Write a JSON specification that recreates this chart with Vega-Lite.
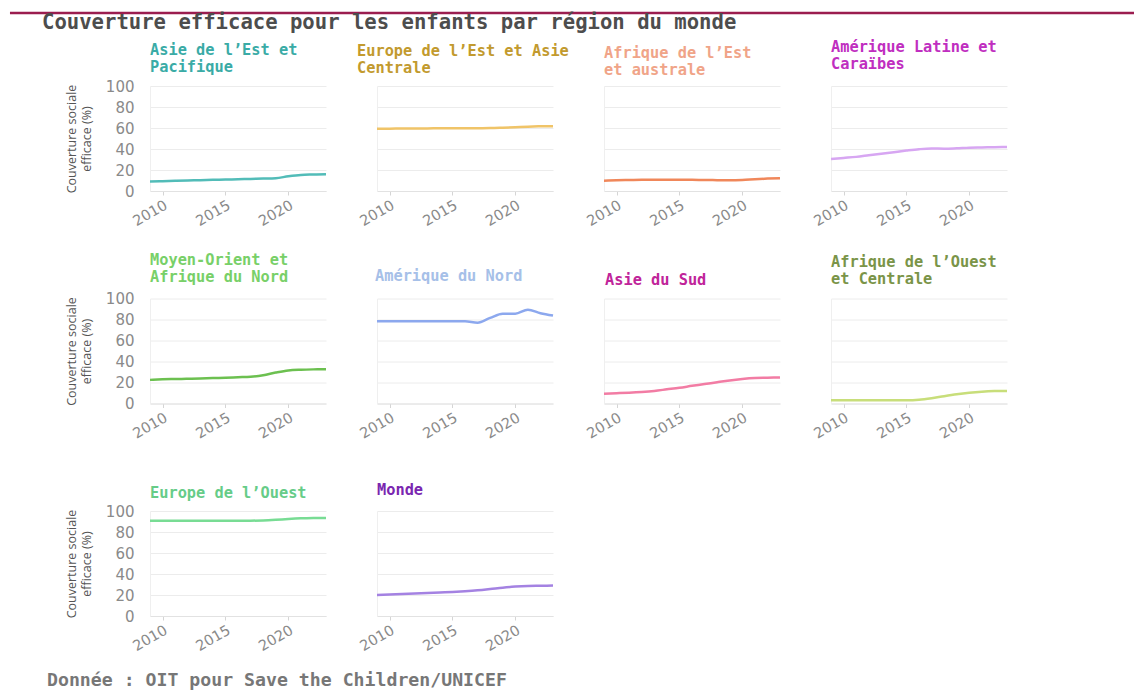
{
  "$schema": "https://vega.github.io/schema/vega-lite/v6.json",
  "padding": {"left": 8, "top": 11, "right": 0, "bottom": 0},
  "bounds": "flush",
  "spacing": 72,
  "datasets": {
    "d": [
      {"region": "EAP", "year": 2009, "value": 9}, {"region": "EAP", "year": 2010, "value": 9.3}, {"region": "EAP", "year": 2011, "value": 9.7}, {"region": "EAP", "year": 2012, "value": 10}, {"region": "EAP", "year": 2013, "value": 10.3}, {"region": "EAP", "year": 2014, "value": 10.6}, {"region": "EAP", "year": 2015, "value": 10.9}, {"region": "EAP", "year": 2016, "value": 11.2}, {"region": "EAP", "year": 2017, "value": 11.5}, {"region": "EAP", "year": 2018, "value": 11.8}, {"region": "EAP", "year": 2019, "value": 12.2}, {"region": "EAP", "year": 2020, "value": 14}, {"region": "EAP", "year": 2021, "value": 15.3}, {"region": "EAP", "year": 2022, "value": 15.7}, {"region": "EAP", "year": 2023, "value": 16},
      {"region": "ECA", "year": 2009, "value": 59.3}, {"region": "ECA", "year": 2010, "value": 59.4}, {"region": "ECA", "year": 2011, "value": 59.5}, {"region": "ECA", "year": 2012, "value": 59.6}, {"region": "ECA", "year": 2013, "value": 59.6}, {"region": "ECA", "year": 2014, "value": 59.7}, {"region": "ECA", "year": 2015, "value": 59.7}, {"region": "ECA", "year": 2016, "value": 59.8}, {"region": "ECA", "year": 2017, "value": 59.8}, {"region": "ECA", "year": 2018, "value": 59.9}, {"region": "ECA", "year": 2019, "value": 60.3}, {"region": "ECA", "year": 2020, "value": 60.8}, {"region": "ECA", "year": 2021, "value": 61.3}, {"region": "ECA", "year": 2022, "value": 61.6}, {"region": "ECA", "year": 2023, "value": 61.7},
      {"region": "ESA", "year": 2009, "value": 9.8}, {"region": "ESA", "year": 2010, "value": 10.2}, {"region": "ESA", "year": 2011, "value": 10.5}, {"region": "ESA", "year": 2012, "value": 10.7}, {"region": "ESA", "year": 2013, "value": 10.8}, {"region": "ESA", "year": 2014, "value": 10.8}, {"region": "ESA", "year": 2015, "value": 10.8}, {"region": "ESA", "year": 2016, "value": 10.7}, {"region": "ESA", "year": 2017, "value": 10.5}, {"region": "ESA", "year": 2018, "value": 10.3}, {"region": "ESA", "year": 2019, "value": 10.2}, {"region": "ESA", "year": 2020, "value": 10.5}, {"region": "ESA", "year": 2021, "value": 11.2}, {"region": "ESA", "year": 2022, "value": 11.8}, {"region": "ESA", "year": 2023, "value": 12.2},
      {"region": "LAC", "year": 2009, "value": 30.5}, {"region": "LAC", "year": 2010, "value": 31.5}, {"region": "LAC", "year": 2011, "value": 32.5}, {"region": "LAC", "year": 2012, "value": 34}, {"region": "LAC", "year": 2013, "value": 35.5}, {"region": "LAC", "year": 2014, "value": 37}, {"region": "LAC", "year": 2015, "value": 38.5}, {"region": "LAC", "year": 2016, "value": 39.8}, {"region": "LAC", "year": 2017, "value": 40.5}, {"region": "LAC", "year": 2018, "value": 40.3}, {"region": "LAC", "year": 2019, "value": 40.7}, {"region": "LAC", "year": 2020, "value": 41.3}, {"region": "LAC", "year": 2021, "value": 41.5}, {"region": "LAC", "year": 2022, "value": 41.7}, {"region": "LAC", "year": 2023, "value": 42},
      {"region": "MENA", "year": 2009, "value": 22.5}, {"region": "MENA", "year": 2010, "value": 23}, {"region": "MENA", "year": 2011, "value": 23.3}, {"region": "MENA", "year": 2012, "value": 23.5}, {"region": "MENA", "year": 2013, "value": 23.8}, {"region": "MENA", "year": 2014, "value": 24.2}, {"region": "MENA", "year": 2015, "value": 24.5}, {"region": "MENA", "year": 2016, "value": 25}, {"region": "MENA", "year": 2017, "value": 25.5}, {"region": "MENA", "year": 2018, "value": 27}, {"region": "MENA", "year": 2019, "value": 29.5}, {"region": "MENA", "year": 2020, "value": 31.5}, {"region": "MENA", "year": 2021, "value": 32.2}, {"region": "MENA", "year": 2022, "value": 32.5}, {"region": "MENA", "year": 2023, "value": 32.6},
      {"region": "NA", "year": 2009, "value": 78.3}, {"region": "NA", "year": 2010, "value": 78.3}, {"region": "NA", "year": 2011, "value": 78.3}, {"region": "NA", "year": 2012, "value": 78.3}, {"region": "NA", "year": 2013, "value": 78.3}, {"region": "NA", "year": 2014, "value": 78.3}, {"region": "NA", "year": 2015, "value": 78.3}, {"region": "NA", "year": 2016, "value": 78.3}, {"region": "NA", "year": 2017, "value": 77}, {"region": "NA", "year": 2018, "value": 81.5}, {"region": "NA", "year": 2019, "value": 85.5}, {"region": "NA", "year": 2020, "value": 85.5}, {"region": "NA", "year": 2021, "value": 89.3}, {"region": "NA", "year": 2022, "value": 86}, {"region": "NA", "year": 2023, "value": 83.7},
      {"region": "SA", "year": 2009, "value": 9.4}, {"region": "SA", "year": 2010, "value": 9.8}, {"region": "SA", "year": 2011, "value": 10.3}, {"region": "SA", "year": 2012, "value": 11}, {"region": "SA", "year": 2013, "value": 12}, {"region": "SA", "year": 2014, "value": 13.5}, {"region": "SA", "year": 2015, "value": 15}, {"region": "SA", "year": 2016, "value": 16.8}, {"region": "SA", "year": 2017, "value": 18.5}, {"region": "SA", "year": 2018, "value": 20.3}, {"region": "SA", "year": 2019, "value": 22}, {"region": "SA", "year": 2020, "value": 23.3}, {"region": "SA", "year": 2021, "value": 24.2}, {"region": "SA", "year": 2022, "value": 24.5}, {"region": "SA", "year": 2023, "value": 24.8},
      {"region": "WCA", "year": 2009, "value": 3}, {"region": "WCA", "year": 2010, "value": 3}, {"region": "WCA", "year": 2011, "value": 3}, {"region": "WCA", "year": 2012, "value": 3}, {"region": "WCA", "year": 2013, "value": 3}, {"region": "WCA", "year": 2014, "value": 3}, {"region": "WCA", "year": 2015, "value": 3}, {"region": "WCA", "year": 2016, "value": 3.5}, {"region": "WCA", "year": 2017, "value": 5}, {"region": "WCA", "year": 2018, "value": 7}, {"region": "WCA", "year": 2019, "value": 8.8}, {"region": "WCA", "year": 2020, "value": 10.2}, {"region": "WCA", "year": 2021, "value": 11.2}, {"region": "WCA", "year": 2022, "value": 11.8}, {"region": "WCA", "year": 2023, "value": 12},
      {"region": "WE", "year": 2009, "value": 90.8}, {"region": "WE", "year": 2010, "value": 90.8}, {"region": "WE", "year": 2011, "value": 90.8}, {"region": "WE", "year": 2012, "value": 90.8}, {"region": "WE", "year": 2013, "value": 90.8}, {"region": "WE", "year": 2014, "value": 90.8}, {"region": "WE", "year": 2015, "value": 90.8}, {"region": "WE", "year": 2016, "value": 90.8}, {"region": "WE", "year": 2017, "value": 90.8}, {"region": "WE", "year": 2018, "value": 91}, {"region": "WE", "year": 2019, "value": 91.6}, {"region": "WE", "year": 2020, "value": 92.4}, {"region": "WE", "year": 2021, "value": 93}, {"region": "WE", "year": 2022, "value": 93.3}, {"region": "WE", "year": 2023, "value": 93.4},
      {"region": "WLD", "year": 2009, "value": 20}, {"region": "WLD", "year": 2010, "value": 20.4}, {"region": "WLD", "year": 2011, "value": 20.9}, {"region": "WLD", "year": 2012, "value": 21.4}, {"region": "WLD", "year": 2013, "value": 21.9}, {"region": "WLD", "year": 2014, "value": 22.4}, {"region": "WLD", "year": 2015, "value": 22.9}, {"region": "WLD", "year": 2016, "value": 23.6}, {"region": "WLD", "year": 2017, "value": 24.5}, {"region": "WLD", "year": 2018, "value": 25.7}, {"region": "WLD", "year": 2019, "value": 27}, {"region": "WLD", "year": 2020, "value": 28}, {"region": "WLD", "year": 2021, "value": 28.6}, {"region": "WLD", "year": 2022, "value": 28.8}, {"region": "WLD", "year": 2023, "value": 29}
    ]
  },
  "vconcat": [
    {
      "width": 984,
      "height": 1,
      "title": {"text": "Couverture efficace pour les enfants par région du monde", "orient": "bottom", "anchor": "start", "frame": "group", "dx": -108, "offset": -1, "font": "DejaVu Sans Mono", "fontSize": 20.6, "fontWeight": "bold", "color": "#4d4d4d"},
      "data": {"values": [{"k": 1}]},
      "mark": {"type": "rule", "color": "#9b1d4f", "strokeWidth": 2.5},
      "encoding": {
        "x": {"datum": -0.1423, "type": "quantitative", "scale": {"domain": [0, 1], "nice": false, "zero": false}, "axis": null},
        "x2": {"datum": 1},
        "y": {"value": 0}
      }
    },
    {
      "title": {"text": "Donnée : OIT pour Save the Children/UNICEF", "orient": "bottom", "anchor": "start", "frame": "group", "dx": -103, "offset": 19, "font": "DejaVu Sans Mono", "fontSize": 18.2, "fontWeight": "bold", "color": "#777777"},
      "columns": 4,
      "bounds": "flush",
      "spacing": {"row": 107.5, "column": 51},
      "concat": [
        {
          "width": 176, "height": 105,
          "title": {"text": ["Asie de l’Est et", "Pacifique"], "color": "#3aaba6", "offset": 4},
          "data": {"name": "d"},
          "transform": [{"filter": {"field": "region", "equal": "EAP"}}],
          "mark": {"type": "line", "color": "#52bcb8", "strokeWidth": 2.5, "interpolate": "monotone"},
          "encoding": {
            "x": {"field": "year", "type": "quantitative", "scale": {"domain": [2009, 2023], "nice": false, "zero": false}, "axis": {"values": [2010, 2015, 2020], "format": "d", "title": null, "grid": false}},
            "y": {"field": "value", "type": "quantitative", "scale": {"domain": [0, 100], "nice": false}, "axis": {"values": [0, 20, 40, 60, 80, 100], "title": ["Couverture sociale", "efficace (%)"]}}
          }
        },
        {
          "width": 176, "height": 105,
          "title": {"text": ["Europe de l’Est et Asie", "Centrale"], "color": "#c29a2e", "dx": -20, "offset": 10},
          "data": {"name": "d"},
          "transform": [{"filter": {"field": "region", "equal": "ECA"}}],
          "mark": {"type": "line", "color": "#f0c468", "strokeWidth": 2.5, "interpolate": "monotone"},
          "encoding": {
            "x": {"field": "year", "type": "quantitative", "scale": {"domain": [2009, 2023], "nice": false, "zero": false}, "axis": {"values": [2010, 2015, 2020], "format": "d", "title": null, "grid": false}},
            "y": {"field": "value", "type": "quantitative", "scale": {"domain": [0, 100], "nice": false}, "axis": {"values": [0, 20, 40, 60, 80, 100], "title": null, "labels": false}}
          }
        },
        {
          "width": 176, "height": 105,
          "title": {"text": ["Afrique de l’Est", "et australe"], "color": "#f0a488", "offset": 8},
          "data": {"name": "d"},
          "transform": [{"filter": {"field": "region", "equal": "ESA"}}],
          "mark": {"type": "line", "color": "#f0875a", "strokeWidth": 2.5, "interpolate": "monotone"},
          "encoding": {
            "x": {"field": "year", "type": "quantitative", "scale": {"domain": [2009, 2023], "nice": false, "zero": false}, "axis": {"values": [2010, 2015, 2020], "format": "d", "title": null, "grid": false}},
            "y": {"field": "value", "type": "quantitative", "scale": {"domain": [0, 100], "nice": false}, "axis": {"values": [0, 20, 40, 60, 80, 100], "title": null, "labels": false}}
          }
        },
        {
          "width": 176, "height": 105,
          "title": {"text": ["Amérique Latine et", "Caraïbes"], "color": "#c02ec0", "offset": 14},
          "data": {"name": "d"},
          "transform": [{"filter": {"field": "region", "equal": "LAC"}}],
          "mark": {"type": "line", "color": "#d7a6f2", "strokeWidth": 2.5, "interpolate": "monotone"},
          "encoding": {
            "x": {"field": "year", "type": "quantitative", "scale": {"domain": [2009, 2023], "nice": false, "zero": false}, "axis": {"values": [2010, 2015, 2020], "format": "d", "title": null, "grid": false}},
            "y": {"field": "value", "type": "quantitative", "scale": {"domain": [0, 100], "nice": false}, "axis": {"values": [0, 20, 40, 60, 80, 100], "title": null, "labels": false}}
          }
        },
        {
          "width": 176, "height": 105,
          "title": {"text": ["Moyen-Orient et", "Afrique du Nord"], "color": "#78d068", "offset": 6},
          "data": {"name": "d"},
          "transform": [{"filter": {"field": "region", "equal": "MENA"}}],
          "mark": {"type": "line", "color": "#6cc050", "strokeWidth": 2.5, "interpolate": "monotone"},
          "encoding": {
            "x": {"field": "year", "type": "quantitative", "scale": {"domain": [2009, 2023], "nice": false, "zero": false}, "axis": {"values": [2010, 2015, 2020], "format": "d", "title": null, "grid": false}},
            "y": {"field": "value", "type": "quantitative", "scale": {"domain": [0, 100], "nice": false}, "axis": {"values": [0, 20, 40, 60, 80, 100], "title": ["Couverture sociale", "efficace (%)"]}}
          }
        },
        {
          "width": 176, "height": 105,
          "title": {"text": "Amérique du Nord", "color": "#a6c0e8", "offset": 14, "dx": -2},
          "data": {"name": "d"},
          "transform": [{"filter": {"field": "region", "equal": "NA"}}],
          "mark": {"type": "line", "color": "#8ca8ee", "strokeWidth": 2.5, "interpolate": "monotone"},
          "encoding": {
            "x": {"field": "year", "type": "quantitative", "scale": {"domain": [2009, 2023], "nice": false, "zero": false}, "axis": {"values": [2010, 2015, 2020], "format": "d", "title": null, "grid": false}},
            "y": {"field": "value", "type": "quantitative", "scale": {"domain": [0, 100], "nice": false}, "axis": {"values": [0, 20, 40, 60, 80, 100], "title": null, "labels": false}}
          }
        },
        {
          "width": 176, "height": 105,
          "title": {"text": "Asie du Sud", "color": "#c0249a", "offset": 10, "dx": 1},
          "data": {"name": "d"},
          "transform": [{"filter": {"field": "region", "equal": "SA"}}],
          "mark": {"type": "line", "color": "#f27ca4", "strokeWidth": 2.5, "interpolate": "monotone"},
          "encoding": {
            "x": {"field": "year", "type": "quantitative", "scale": {"domain": [2009, 2023], "nice": false, "zero": false}, "axis": {"values": [2010, 2015, 2020], "format": "d", "title": null, "grid": false}},
            "y": {"field": "value", "type": "quantitative", "scale": {"domain": [0, 100], "nice": false}, "axis": {"values": [0, 20, 40, 60, 80, 100], "title": null, "labels": false}}
          }
        },
        {
          "width": 176, "height": 105,
          "title": {"text": ["Afrique de l’Ouest", "et Centrale"], "color": "#7a9448", "offset": 11},
          "data": {"name": "d"},
          "transform": [{"filter": {"field": "region", "equal": "WCA"}}],
          "mark": {"type": "line", "color": "#c8de7a", "strokeWidth": 2.5, "interpolate": "monotone"},
          "encoding": {
            "x": {"field": "year", "type": "quantitative", "scale": {"domain": [2009, 2023], "nice": false, "zero": false}, "axis": {"values": [2010, 2015, 2020], "format": "d", "title": null, "grid": false}},
            "y": {"field": "value", "type": "quantitative", "scale": {"domain": [0, 100], "nice": false}, "axis": {"values": [0, 20, 40, 60, 80, 100], "title": null, "labels": false}}
          }
        },
        {
          "width": 176, "height": 105,
          "title": {"text": "Europe de l’Ouest", "color": "#66cc88", "offset": 2.5},
          "data": {"name": "d"},
          "transform": [{"filter": {"field": "region", "equal": "WE"}}],
          "mark": {"type": "line", "color": "#78dc94", "strokeWidth": 2.5, "interpolate": "monotone"},
          "encoding": {
            "x": {"field": "year", "type": "quantitative", "scale": {"domain": [2009, 2023], "nice": false, "zero": false}, "axis": {"values": [2010, 2015, 2020], "format": "d", "title": null, "grid": false}},
            "y": {"field": "value", "type": "quantitative", "scale": {"domain": [0, 100], "nice": false}, "axis": {"values": [0, 20, 40, 60, 80, 100], "title": ["Couverture sociale", "efficace (%)"]}}
          }
        },
        {
          "width": 176, "height": 105,
          "title": {"text": "Monde", "color": "#7a26b0", "offset": 13},
          "data": {"name": "d"},
          "transform": [{"filter": {"field": "region", "equal": "WLD"}}],
          "mark": {"type": "line", "color": "#a482e2", "strokeWidth": 2.5, "interpolate": "monotone"},
          "encoding": {
            "x": {"field": "year", "type": "quantitative", "scale": {"domain": [2009, 2023], "nice": false, "zero": false}, "axis": {"values": [2010, 2015, 2020], "format": "d", "title": null, "grid": false}},
            "y": {"field": "value", "type": "quantitative", "scale": {"domain": [0, 100], "nice": false}, "axis": {"values": [0, 20, 40, 60, 80, 100], "title": null, "labels": false}}
          }
        }
      ]
    }
  ],
  "config": {
    "view": {"stroke": null},
    "font": "DejaVu Sans",
    "axis": {
      "gridColor": "#ececec",
      "domainColor": "#e2e2e2",
      "tickColor": "#d5d5d5",
      "labelColor": "#8a8a8a",
      "labelFont": "DejaVu Sans",
      "labelFontSize": 14.5,
      "titleFont": "Open Sans",
      "titleFontWeight": "normal",
      "titleFontSize": 12.5,
      "titleColor": "#555555",
      "titleLineHeight": 15
    },
    "axisY": {"ticks": false, "labelPadding": 16, "labelFontSize": 15, "titlePadding": 12, "domainColor": "#efefef"},
    "axisX": {"tickSize": 4, "labelAngle": -30, "labelPadding": 3},
    "title": {"anchor": "start", "frame": "group", "font": "DejaVu Sans Mono", "fontSize": 15.3, "fontWeight": "bold", "offset": 10, "lineHeight": 17}
  }
}
